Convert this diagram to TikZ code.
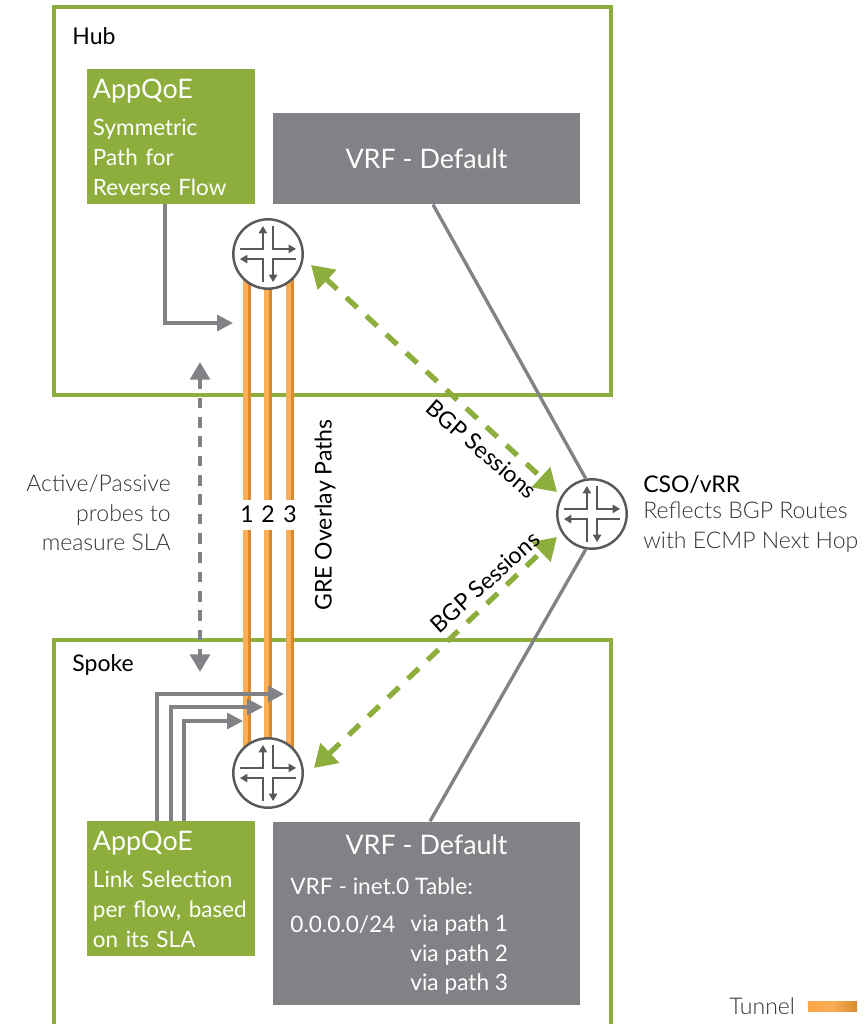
\documentclass[tikz,border=0pt]{standalone}
\usepackage{fontspec}
\setmainfont{Lato}
\newfontfamily\thinfont{Lato Light}
\usetikzlibrary{arrows.meta}
\definecolor{framegreen}{HTML}{8DAE3D}
\definecolor{boxgray}{HTML}{808285}
\definecolor{routergray}{HTML}{58595B}
\definecolor{tubelight}{HTML}{F9AE57}
\definecolor{tubedark}{HTML}{D98A2E}
\tikzset{
    frame/.style={draw=framegreen, line width=2.4pt},
    greenbox/.style={fill=framegreen, text=white, minimum width=95.6pt, minimum height=76.8pt, inner xsep=3.4pt, inner ysep=0pt, text width=88.8pt, align=left, font=\fontsize{12.8}{17}\selectfont},
    graybox/.style={fill=boxgray, text=white, minimum width=174.7pt, font=\fontsize{15.3}{17}\selectfont},
    boxtext/.style={text=white, inner sep=0pt, font=\fontsize{12.9}{17}\selectfont},
    plaintext/.style={inner sep=0pt, font=\fontsize{13.1}{17}\selectfont},
    thintext/.style={inner sep=0pt, text=black!80, font=\thinfont\fontsize{13.1}{16.8}\selectfont},
    router/.style={circle, draw=routergray, fill=white, line width=1.4pt, minimum size=39.5pt, inner sep=0pt},
    flow/.style={draw=boxgray, line width=1.8pt, -{Triangle[length=9pt, width=9pt]}},
    graylink/.style={draw=boxgray, line width=1.9pt},
    probe/.style={draw=boxgray, line width=2.6pt, dash pattern=on 6pt off 5pt, {Triangle[length=10pt, width=11pt]}-{Triangle[length=10pt, width=11pt]}},
    bgp/.style={draw=framegreen, line width=3pt, dash pattern=on 8.5pt off 7pt, {Triangle[length=12.5pt, width=15pt]}-{Triangle[length=12.5pt, width=15pt]}},
    tunnel/.style={draw=tubelight, line width=4pt, postaction={draw=tubedark, line width=1.2pt, transform canvas={xshift=1.4pt}}}
}
\newcommand{\routerarrows}[1]{
    \draw[routergray, line width=1.3pt, -{Triangle[length=4.2pt, width=4.6pt]}] ([shift={(-16pt,2.9pt)}]#1.center) -| ([shift={(-2.9pt,16pt)}]#1.center);
    \draw[routergray, line width=1.3pt, -{Triangle[length=4.2pt, width=4.6pt]}] ([shift={(2.9pt,16pt)}]#1.center) |- ([shift={(16pt,2.9pt)}]#1.center);
    \draw[routergray, line width=1.3pt, -{Triangle[length=4.2pt, width=4.6pt]}] ([shift={(16pt,-2.9pt)}]#1.center) -| ([shift={(2.9pt,-16pt)}]#1.center);
    \draw[routergray, line width=1.3pt, -{Triangle[length=4.2pt, width=4.6pt]}] ([shift={(-2.9pt,-16pt)}]#1.center) |- ([shift={(-16pt,-2.9pt)}]#1.center);
}
\begin{document}
\begin{tikzpicture}[x=0.02cm, y=-0.02cm]
            \clip (0, 0) rectangle (866, 1024);
            % frames
            \draw[frame] (54, 7) rectangle (611, 395);
            \draw[frame] (54, 1060) -- (54, 640) -- (611, 640) -- (611, 1060);
            % boxes
            \node[greenbox] (apphub) at (171, 136.5) {{\fontsize{15.3}{17}\selectfont\strut AppQoE}\\[3.9pt]Symmetric\\Path for\\Reverse Flow};
            \node[greenbox] (appspoke) at (171, 888.5) {{\fontsize{15.3}{17}\selectfont\strut AppQoE}\\[3.9pt]Link Selection\\per flow, based\\on its SLA};
            \node[graybox, minimum height=52pt] (vrfhub) at (426.5, 158.5) {VRF - Default};
            \node[graybox, minimum height=104.5pt] (vrfspoke) at (426.5, 913.5) {};
            \node[inner sep=0pt, text=white, font=\fontsize{15.3}{17}\selectfont] (vrftitle) at (426.5, 845) {VRF - Default};
            \node[boxtext, anchor=west] (table) at (290, 886) {VRF - inet.0 Table:};
            \node[boxtext, anchor=west] (prefix) at (290, 925) {0.0.0.0/24};
            \node[boxtext, anchor=west] (path1) at (410, 925) {via path 1};
            \node[boxtext, anchor=west] (path2) at (410, 955) {via path 2};
            \node[boxtext, anchor=west] (path3) at (410, 984) {via path 3};
            % routers are placed after the tunnels so that they cover the ends
            \coordinate (hubpos) at (268, 254);
            \coordinate (spokepos) at (268, 773);
            \node[plaintext] (num1) at (247, 514) {1};
            \node[plaintext] (num2) at (268, 514) {2};
            \node[plaintext] (num3) at (290, 514) {3};
            \draw[tunnel] ([yshift=8pt]num1.center) -- (num1 |- hubpos);
            \draw[tunnel] ([yshift=8pt]num2.center) -- (num2 |- hubpos);
            \draw[tunnel] ([yshift=8pt]num3.center) -- (num3 |- hubpos);
            \draw[tunnel] ([yshift=-9pt]num1.center) -- (num1 |- spokepos);
            \draw[tunnel] ([yshift=-9pt]num2.center) -- (num2 |- spokepos);
            \draw[tunnel] ([yshift=-9pt]num3.center) -- (num3 |- spokepos);
            \node[router] (hubrouter) at (hubpos) {};
            \node[router] (spokerouter) at (spokepos) {};
            \node[router] (cso) at (592, 514) {};
            \routerarrows{hubrouter}
            \routerarrows{spokerouter}
            \routerarrows{cso}
            % links
            \draw[graylink] ([xshift=3.7pt]vrfhub.south) -- (cso.100);
            \draw[graylink] ([xshift=2pt]vrfspoke.north) -- (cso.-100);
            \coordinate (hubtip) at (233, 323);
            \coordinate (tip1) at (284, 694);
            \coordinate (tip2) at (263, 707);
            \coordinate (tip3) at (243, 721);
            \draw[flow] ([xshift=-3.4pt]apphub.south) |- (hubtip);
            \draw[flow] ([xshift=-8pt]appspoke.north) |- (tip1);
            \draw[flow] (appspoke.north) |- (tip2);
            \draw[flow] ([xshift=7.4pt]appspoke.north) |- (tip3);
            \coordinate (probetop) at (200, 362);
            \coordinate (probebot) at (200, 672);
            \draw[probe] (probetop) -- (probebot);
            \coordinate (bgphub) at (311, 265);
            \coordinate (bgpcsoa) at (557, 492);
            \coordinate (bgpspoke) at (314, 768);
            \coordinate (bgpcsob) at (557, 537);
            \draw[bgp] (bgphub) -- (bgpcsoa);
            \draw[bgp] (bgpspoke) -- (bgpcsob);
            % labels
            \node[plaintext, anchor=west] (hublabel) at (72, 36) {Hub};
            \node[plaintext, anchor=west] (spokelabel) at (72, 665) {Spoke};
            \node[plaintext, rotate=90] (grelabel) at (325, 515) {GRE Overlay Paths};
            \node[plaintext, rotate=-41] (bgplabela) at (482, 449) {BGP Sessions};
            \node[plaintext, rotate=42] (bgplabelb) at (485, 582) {BGP Sessions};
            \node[thintext, anchor=east, align=right] (probelabel) at (171, 513) {Active/Passive\\probes to\\measure SLA};
            \node[plaintext, anchor=west] (csolabel) at (643, 485) {CSO/vRR};
            \node[thintext, anchor=west, align=left] (csotext) at (643, 527) {Reflects BGP Routes\\with ECMP Next Hop};
            \node[thintext, anchor=west] (tunnellabel) at (729, 1006) {Tunnel};
            \node[minimum width=28pt, minimum height=6pt, inner sep=0pt, left color=tubelight!80!orange, right color=tubedark, middle color=tubelight] (swatch) at (832.5, 1006.5) {};
\end{tikzpicture}
\end{document}
